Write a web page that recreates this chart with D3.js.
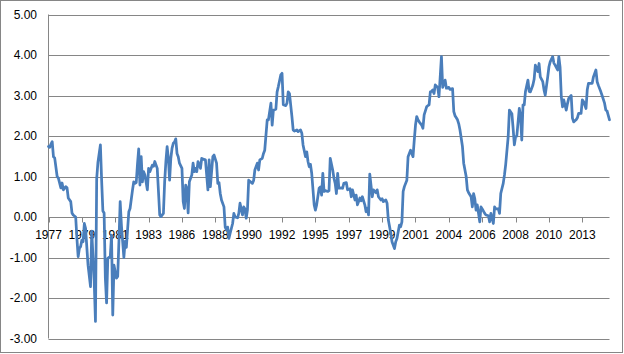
<!DOCTYPE html>
<html lang="en">
<head>
    <meta charset="UTF-8">
    <script src="https://d3js.org/d3.v7.min.js"></script>
    <title>Line chart</title>
    <style>
        body {
            margin: 0;
            background: #fff;
        }
        svg {
            display: block;
        }
        text {
            font-family: "Liberation Sans", Arial, sans-serif;
            font-size: 12px;
            fill: #000;
        }
    </style>
</head>
<body>
    <svg width="624" height="354"></svg>

    <script>
        // [months since Jan 1977, value]
        const points = [
            [0,1.74],[1,1.72],[2,1.8],[3,1.86],[4,1.49],[5,1.46],[7,1.0],[8,0.96],[10,0.72],[11,0.84],
            [12,0.67],[14,0.75],[15,0.72],[16,0.47],[18,0.38],[19,0.1],[20,0.05],[22,0.0],[23,-0.53],
            [24,-0.98],[25,-0.77],[26,-0.73],[27,-0.57],[28,-0.61],[29,-0.16],[30,-0.28],[32,-1.19],
            [34,-1.72],[35,-0.35],[37,-1.6],[38,-2.58],[39,0.95],[40,1.35],[42,1.78],[43,0.9],[44,0.15],
            [45,0.1],[46,-1.51],[47,-2.12],[48,-1.02],[50,-0.97],[51,-0.45],[52,-2.42],[53,-1.19],
            [55,-1.51],[56,-1.47],[57,-0.6],[58,0.38],[59,-0.2],[61,-1.0],[62,-0.6],[63,-0.75],
            [65,0.13],[66,0.21],[68,0.67],[69,0.87],[70,0.83],[71,0.85],[72,1.3],[73,1.68],[74,0.79],
            [75,1.49],[76,0.87],[77,1.12],[78,1.04],[80,0.67],[81,1.2],[82,1.12],[84,1.28],[85,1.25],
            [86,1.37],[88,1.2],[89,0.63],[90,0.05],[91,0.01],[93,0.09],[94,0.87],[95,1.37],[96,1.74],
            [97,1.45],[98,0.91],[99,1.45],[100,1.7],[101,1.82],[102,1.85],[103,1.93],[104,1.57],
            [105,1.49],[106,1.33],[108,1.2],[109,0.38],[110,0.21],[111,0.79],[112,0.71],[113,0.1],
            [114,0.87],[116,1.04],[117,1.33],[118,1.12],[119,1.2],[120,1.12],[121,1.37],[123,1.2],
            [124,1.45],[125,1.43],[127,1.41],[129,0.67],[130,1.41],[131,0.75],[133,1.49],[134,1.53],
            [136,1.33],[137,0.83],[138,0.85],[139,0.58],[140,0.42],[142,0.25],[143,-0.25],[144,-0.32],
            [145,-0.25],[146,-0.53],[147,-0.4],[149,-0.16],[150,0.09],[151,0.0],[153,-0.02],[154,0.09],
            [155,0.34],[157,0.05],[158,0.25],[159,0.2],[160,-0.03],[161,0.17],[162,0.91],[163,0.88],
            [165,0.83],[166,0.9],[167,1.16],[169,1.33],[170,1.16],[171,1.41],[173,1.45],[174,1.57],
            [175,1.65],[177,2.4],[178,2.4],[180,2.81],[181,2.27],[182,2.64],[184,2.66],[185,3.09],
            [186,3.22],[188,3.51],[189,3.55],[190,2.77],[192,2.75],[193,2.81],[194,3.09],[195,3.05],
            [197,2.48],[198,2.15],[199,2.12],[201,2.15],[202,2.11],[204,2.15],[205,2.07],[206,1.78],
            [208,1.49],[209,1.61],[210,1.37],[211,1.24],[212,1.3],[213,1.08],[215,0.3],[216,0.17],
            [217,0.3],[219,0.71],[220,0.74],[221,0.54],[222,1.08],[223,0.63],[224,0.65],[226,0.63],
            [227,0.65],[228,1.45],[230,1.16],[231,0.96],[232,0.83],[233,0.58],[234,1.08],[235,0.71],
            [237,0.72],[238,0.71],[239,0.83],[241,0.85],[242,0.67],[244,0.7],[245,0.5],[246,0.67],
            [248,0.42],[249,0.54],[250,0.3],[252,0.47],[253,0.4],[254,0.5],[256,0.3],[257,0.13],
            [258,0.22],[259,0.05],[260,1.06],[262,0.5],[263,0.67],[265,0.6],[266,0.67],[267,0.5],
            [269,0.42],[270,0.45],[271,0.38],[273,0.42],[274,0.34],[275,-0.07],[277,-0.4],[278,-0.61],
            [280,-0.78],[281,-0.61],[282,-0.53],[284,-0.2],[285,-0.24],[286,-0.12],[287,0.63],
            [288,0.75],[290,0.91],[291,1.49],[292,1.57],[293,1.65],[295,1.49],[296,1.9],[297,2.27],
            [298,2.48],[299,2.4],[300,2.35],[302,2.27],[303,2.19],[304,2.52],[306,2.72],[307,2.75],
            [308,2.77],[309,3.09],[310,3.1],[311,3.14],[312,3.05],[313,3.26],[315,3.2],[316,2.97],
            [318,3.96],[319,3.2],[321,3.38],[322,3.18],[324,3.2],[325,3.15],[327,3.17],[328,2.6],
            [329,2.5],[331,2.4],[332,2.3],[333,2.15],[335,1.74],[336,1.33],[338,1.0],[339,0.67],
            [340,0.6],[342,0.5],[343,0.25],[344,0.58],[345,0.45],[346,0.17],[347,0.3],[349,-0.12],
            [350,0.25],[351,0.2],[353,0.09],[354,0.05],[356,0.03],[357,-0.12],[358,0.09],[360,-0.16],
            [361,0.25],[362,0.2],[364,0.2],[365,0.09],[366,0.58],[368,0.83],[369,1.04],[370,1.3],
            [372,1.98],[373,2.64],[375,2.55],[376,2.19],[377,1.78],[378,1.98],[379,2.0],[381,2.68],
            [382,2.5],[383,1.9],[384,2.77],[385,2.77],[386,3.1],[388,3.38],[389,3.1],[390,3.09],
            [392,3.26],[393,3.4],[394,3.75],[396,3.59],[397,3.79],[398,3.46],[400,3.34],[401,3.14],
            [402,3.01],[404,3.46],[405,3.71],[406,3.83],[408,3.96],[409,3.8],[410,3.75],[412,3.63],
            [413,3.96],[414,3.7],[415,2.97],[416,2.72],[417,2.89],[419,2.64],[420,2.8],[421,2.93],
            [423,3.0],[424,2.44],[425,2.35],[427,2.4],[428,2.45],[429,2.56],[431,2.56],[432,2.89],
            [433,2.85],[435,2.68],[436,3.14],[437,3.3],[439,3.3],[440,3.3],[441,3.46],[443,3.63],
            [444,3.34],[445,3.25],[447,3.09],[448,3.0],[450,2.81],[451,2.64],[452,2.62],[454,2.4]
        ];

        const lastMonth = 454;
        const tickEvery = 27;
        const xTickLabels = ['1977', '1979', '1981', '1983', '1986', '1988', '1990', '1992', '1995',
            '1997', '1999', '2001', '2004', '2006', '2008', '2010', '2013'];
        const yTicks = [-3, -2, -1, 0, 1, 2, 3, 4, 5];

        const svg = d3.select('svg');
        const gridColor = '#868686';

        const x = d3.scaleLinear().domain([0, lastMonth]).range([48.5, 609.5]);
        const y = d3.scaleLinear().domain([-3, 5]).range([338.5, 14.5]);

        // chart border
        svg.append('rect')
            .attr('x', 0.5).attr('y', 0.5)
            .attr('width', 622).attr('height', 352)
            .attr('fill', 'none')
            .attr('stroke', gridColor);

        // horizontal gridlines
        svg.append('g')
            .selectAll('line')
            .data(yTicks)
            .enter().append('line')
            .attr('x1', x(0)).attr('x2', x(lastMonth))
            .attr('y1', d => Math.round(y(d)) + 0.5)
            .attr('y2', d => Math.round(y(d)) + 0.5)
            .attr('stroke', gridColor);

        // value axis
        svg.append('line')
            .attr('x1', x(0)).attr('x2', x(0))
            .attr('y1', y(5)).attr('y2', y(-3))
            .attr('stroke', gridColor);

        svg.append('g')
            .selectAll('text')
            .data(yTicks)
            .enter().append('text')
            .attr('x', 37)
            .attr('y', d => y(d))
            .attr('dy', '0.35em')
            .attr('text-anchor', 'end')
            .text(d => d.toFixed(2));

        // category axis, crossing at zero
        const zeroY = Math.round(y(0)) + 0.5;
        const xTicks = xTickLabels.map((label, i) => ({ label, month: i * tickEvery }));

        svg.append('g')
            .selectAll('line')
            .data(xTicks)
            .enter().append('line')
            .attr('x1', d => Math.round(x(d.month)) + 0.5)
            .attr('x2', d => Math.round(x(d.month)) + 0.5)
            .attr('y1', zeroY).attr('y2', zeroY + 5)
            .attr('stroke', gridColor);

        svg.append('g')
            .selectAll('text')
            .data(xTicks)
            .enter().append('text')
            .attr('x', d => x(d.month))
            .attr('y', 239)
            .attr('text-anchor', 'middle')
            .text(d => d.label);

        // series
        const line = d3.line()
            .x(d => x(d[0]))
            .y(d => y(d[1]));

        svg.append('path')
            .datum(points)
            .attr('d', line)
            .attr('fill', 'none')
            .attr('stroke', '#4a7ebb')
            .attr('stroke-width', 2.75)
            .attr('stroke-linejoin', 'round')
            .attr('stroke-linecap', 'round');
    </script>
</body>
</html>
